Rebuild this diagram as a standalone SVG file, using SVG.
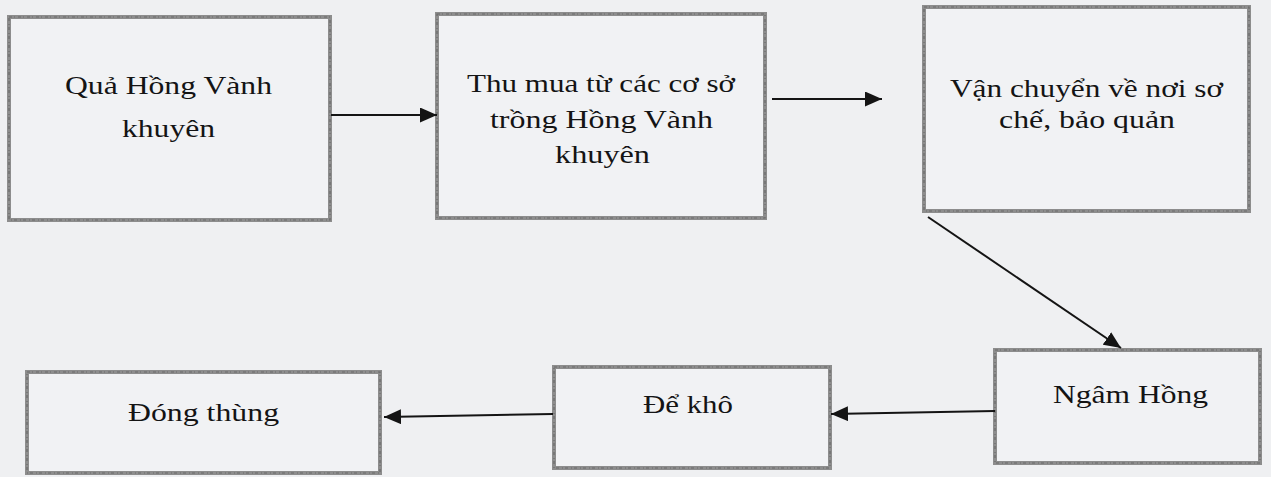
<svg xmlns="http://www.w3.org/2000/svg" width="1271" height="477" viewBox="0 0 1271 477">
  <defs>
    <style>
      .box rect.frame { fill: #f1f2f4; stroke: #8d8d8d; stroke-width: 4; }
      .box rect.grain { fill: none; stroke: #6a6a6a; stroke-width: 1.2; stroke-dasharray: 3 2 1 3; }
      .box text { font-family: "Liberation Serif", "Times New Roman", serif; font-size: 25px; fill: #141414; }
      .links line { stroke: #141414; stroke-width: 2; marker-end: url(#head); }
    </style>
    <marker id="head" viewBox="0 0 17 15" refX="17" refY="7.5" markerWidth="17" markerHeight="15" markerUnits="userSpaceOnUse" orient="auto">
      <path d="M0,0 L17,7.5 L0,15 z" fill="#141414"/>
    </marker>
  </defs>

  <rect x="0" y="0" width="1271" height="477" fill="#eff0f2"/>

  <!-- process steps; labels are set in a horizontally widened serif -->
  <g id="qua-hong" class="box">
    <rect class="frame" x="9" y="17" width="321" height="203"/>
    <rect class="grain" x="9" y="17" width="321" height="203"/>
    <text transform="translate(65,94) scale(1.28,1)" textLength="161.7" lengthAdjust="spacingAndGlyphs">Quả Hồng Vành</text>
    <text transform="translate(122,137) scale(1.28,1)" textLength="72.7" lengthAdjust="spacingAndGlyphs">khuyên</text>
  </g>

  <g id="thu-mua" class="box">
    <rect class="frame" x="437" y="14" width="328" height="204"/>
    <rect class="grain" x="437" y="14" width="328" height="204"/>
    <text transform="translate(467,92) scale(1.28,1)" textLength="209.4" lengthAdjust="spacingAndGlyphs">Thu mua từ các cơ sở</text>
    <text transform="translate(490,128) scale(1.28,1)" textLength="174.2" lengthAdjust="spacingAndGlyphs">trồng Hồng Vành</text>
    <text transform="translate(555,163) scale(1.28,1)" textLength="74.2" lengthAdjust="spacingAndGlyphs">khuyên</text>
  </g>

  <g id="van-chuyen" class="box">
    <rect class="frame" x="924" y="7" width="325" height="204"/>
    <rect class="grain" x="924" y="7" width="325" height="204"/>
    <text transform="translate(950,97) scale(1.28,1)" textLength="213.3" lengthAdjust="spacingAndGlyphs">Vận chuyển về nơi sơ</text>
    <text transform="translate(999,128) scale(1.28,1)" textLength="137.5" lengthAdjust="spacingAndGlyphs">chế, bảo quản</text>
  </g>

  <g id="ngam-hong" class="box">
    <rect class="frame" x="995" y="350" width="265" height="113"/>
    <rect class="grain" x="995" y="350" width="265" height="113"/>
    <text transform="translate(1053,403) scale(1.28,1)" textLength="121.1" lengthAdjust="spacingAndGlyphs">Ngâm Hồng</text>
  </g>

  <g id="de-kho" class="box">
    <rect class="frame" x="554" y="367" width="276" height="101"/>
    <rect class="grain" x="554" y="367" width="276" height="101"/>
    <text transform="translate(643,413) scale(1.28,1)" textLength="70.3" lengthAdjust="spacingAndGlyphs">Để khô</text>
  </g>

  <g id="dong-thung" class="box">
    <rect class="frame" x="27" y="372" width="353" height="101"/>
    <rect class="grain" x="27" y="372" width="353" height="101"/>
    <text transform="translate(128,421) scale(1.28,1)" textLength="118" lengthAdjust="spacingAndGlyphs">Đóng thùng</text>
  </g>

  <!-- flow arrows -->
  <g id="connectors" class="links">
    <line x1="331" y1="115" x2="437" y2="115"/>
    <line x1="772" y1="99" x2="882" y2="99"/>
    <line x1="928" y1="217" x2="1121" y2="348"/>
    <line x1="995" y1="411" x2="831" y2="414"/>
    <line x1="553" y1="414" x2="384" y2="417"/>
  </g>
</svg>
